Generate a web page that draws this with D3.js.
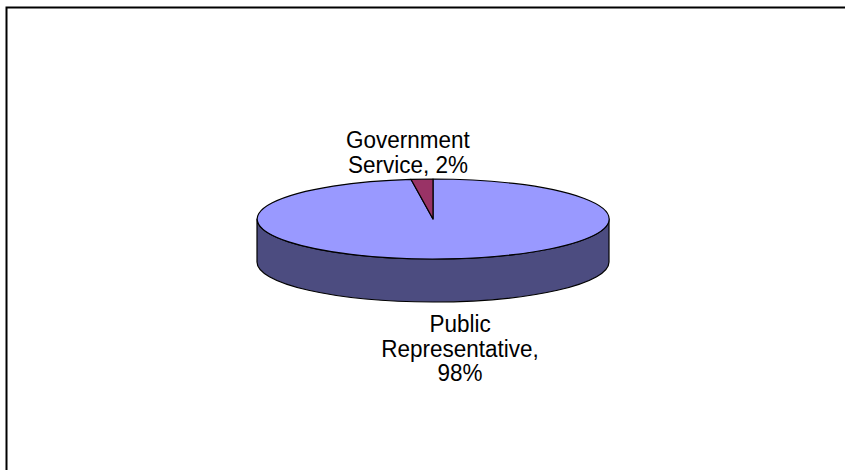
<!DOCTYPE html>
<html>
<head>
<meta charset="utf-8">
<script src="https://cdn.jsdelivr.net/npm/d3@7/dist/d3.min.js"></script>
<style>
  html, body { margin: 0; padding: 0; background: #fff; }
  svg { display: block; }
</style>
</head>
<body>
<svg id="chart" width="845" height="470"></svg>
<script>
// ---- data ----
const categories = ["Public Representative", "Government Service"];
const values = [98, 2];
const labelLines = [["Public", "Representative,", "98%"], ["Government", "Service, 2%"]];

// ---- layout / style ----
const W = 845, H = 470;
const cx = 433, cy = 219, rx = 176, ry = 40, depth = 43;
const topColors = ["#9999FF", "#993366"];
const sideColors = ["#4C4C80", "#4D1A33"];
const labelPos = [{x: 460, y: 332}, {x: 408, y: 148}];
const lineH = 24.5;

const svg = d3.select("#chart");

// frame
svg.append("rect")
  .attr("x", 6.5).attr("y", 7.5)
  .attr("width", W + 20).attr("height", H + 20)
  .attr("fill", "#fff").attr("stroke", "#000").attr("stroke-width", 2);

const pie = d3.pie().sort(null).startAngle(0).endAngle(2 * Math.PI);
const arcs = pie(values);

const P = (a, dy = 0) => [cx + rx * Math.sin(a), cy - ry * Math.cos(a) + dy];
const f = p => p[0].toFixed(2) + "," + p[1].toFixed(2);

// side walls (front half: angles between PI/2 and 3PI/2)
const g = svg.append("g");
arcs.forEach((d, i) => {
  const b0 = Math.max(d.startAngle, Math.PI / 2);
  const b1 = Math.min(d.endAngle, 3 * Math.PI / 2);
  if (b1 <= b0) return;
  const path = `M${f(P(b0))} A${rx},${ry} 0 0 1 ${f(P(b1))} L${f(P(b1, depth))} A${rx},${ry} 0 0 0 ${f(P(b0, depth))} Z`;
  g.append("path").attr("d", path)
    .attr("fill", sideColors[i]).attr("stroke", "#000").attr("stroke-width", 1.2)
    .attr("stroke-linejoin", "round");
});

// top faces
arcs.forEach((d, i) => {
  const large = (d.endAngle - d.startAngle) > Math.PI ? 1 : 0;
  const path = `M${cx},${cy} L${f(P(d.startAngle))} A${rx},${ry} 0 ${large} 1 ${f(P(d.endAngle))} Z`;
  g.append("path").attr("d", path)
    .attr("fill", topColors[i]).attr("stroke", "#000").attr("stroke-width", 1.2)
    .attr("stroke-linejoin", "round");
});

// labels
arcs.forEach((d, i) => {
  const t = svg.append("g")
    .attr("transform", `translate(${labelPos[i].x},${labelPos[i].y})`);
  labelLines[i].forEach((ln, k) => {
    t.append("text")
      .attr("transform", `translate(0,${k * lineH}) scale(1,1.1)`)
      .attr("text-anchor", "middle")
      .attr("font-family", "Liberation Sans, Arial, sans-serif")
      .attr("font-size", 22.5)
      .attr("fill", "#000")
      .text(ln);
  });
});
</script>
</body>
</html>
